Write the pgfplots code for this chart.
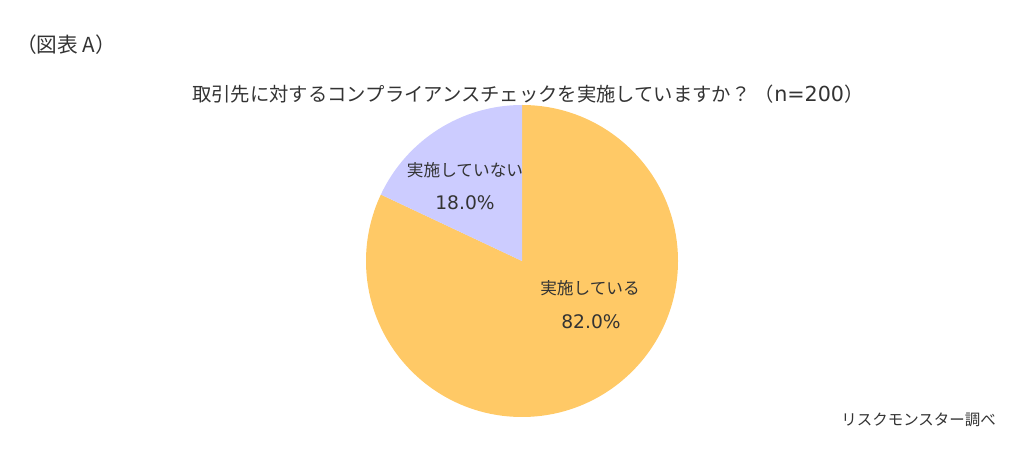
\documentclass[border=0pt]{standalone}
\usepackage{pgfplots}
\pgfplotsset{compat=1.18}
\usepackage{fontspec}
\setmainfont{Noto Sans CJK JP}
\newfontfamily\numfont{DejaVu Sans}
\definecolor{pieOrange}{HTML}{FFC966}
\definecolor{pieLav}{HTML}{CCCCFF}
\definecolor{txt}{HTML}{333333}
\begin{document}
\begin{tikzpicture}
\def\valA{82.0}
\def\valB{18.0}
\pgfmathsetmacro{\angA}{90-3.6*\valA}
\begin{axis}[
  scale only axis, width=768pt, height=347.25pt,
  xmin=0, xmax=1024, ymin=0, ymax=463,
  hide axis, clip=false,
]
\path (axis cs:0,0) rectangle (axis cs:1024,463);
% pie: centre (522, 463-261), radius 156px = 117pt
\fill[pieOrange] (axis cs:522,202) -- ++(90:117pt) arc[start angle=90, end angle=\angA, radius=117pt] -- cycle;
\fill[pieLav] (axis cs:522,202) -- ++(90:117pt) arc[start angle=90, end angle=\angA+360, radius=117pt] -- cycle;
\node[txt, font=\fontsize{15.5}{18}\selectfont, anchor=west, inner sep=0pt] at (axis cs:16,418) {（図表 A）};
\node[txt, font=\fontsize{14.5}{18}\selectfont, anchor=west, inner sep=0pt] at (axis cs:192,369) {取引先に対するコンプライアンスチェックを実施していますか？ （{\fontsize{15.5}{18}\numfont n=200}）};
\node[txt, font=\fontsize{12.5}{15}\selectfont] at (axis cs:465,293) {実施していない};
\node[txt, font=\fontsize{14}{15}\numfont] at (axis cs:465,260) {\valB\%};
\node[txt, font=\fontsize{12.5}{15}\selectfont] at (axis cs:590,175) {実施している};
\node[txt, font=\fontsize{14}{15}\numfont] at (axis cs:591,141) {\valA\%};
\node[txt, font=\fontsize{11.6}{13}\selectfont, anchor=east, inner sep=0pt] at (axis cs:996,43) {リスクモンスター調べ};
\end{axis}
\end{tikzpicture}
\end{document}
